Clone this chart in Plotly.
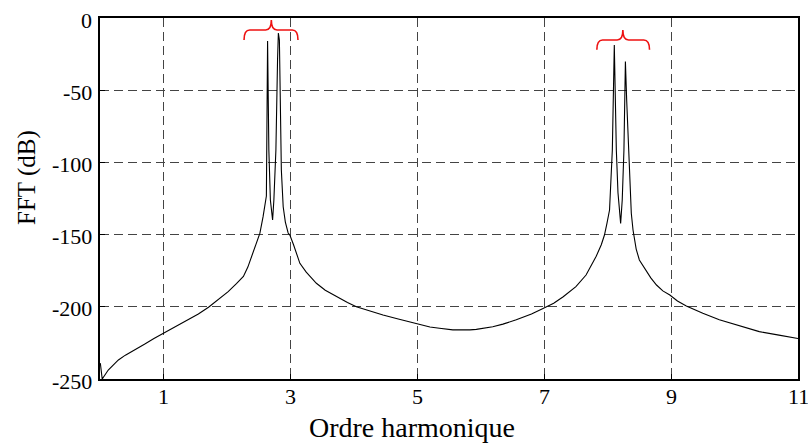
import plotly.graph_objects as go

# Spectrum samples: harmonic order vs FFT magnitude (dB)
harmonic = [
    0.005, 0.035, 0.13, 0.2, 0.29, 0.4, 0.55, 0.7, 0.85, 1.00, 1.2, 1.39, 1.55, 1.71,
    1.87, 2.02, 2.15, 2.26, 2.33, 2.39, 2.45, 2.52, 2.57,
    2.622, 2.641, 2.661, 2.685, 2.720, 2.740, 2.772, 2.798, 2.811, 2.827, 2.843,
    2.858, 2.887, 2.921, 2.965, 2.992, 3.05, 3.1, 3.15, 3.25, 3.41, 3.55, 3.73, 3.9,
    4.04, 4.25, 4.46, 4.7, 4.99, 5.2, 5.35, 5.56, 5.83, 5.93, 6.19, 6.35, 6.56, 6.8,
    6.99, 7.15, 7.30, 7.5, 7.66, 7.74, 7.82, 7.9, 7.95, 7.99, 8.03, 8.074, 8.105,
    8.137, 8.163, 8.205, 8.23, 8.257, 8.28, 8.30, 8.336, 8.373, 8.40, 8.45, 8.50,
    8.6, 8.68, 8.77, 8.87, 8.98, 9.1, 9.24, 9.5, 9.76, 10.05, 10.39, 10.7, 10.97, 11.0,
]
fft_db = [
    -239, -250, -243.8, -240.5, -236.8, -233.5, -230, -226, -222, -218.4, -213.5, -209, -205, -200.3,
    -195, -189.5, -184, -179, -172.5, -165, -158, -149, -137.6,
    -123.3, -15.9, -91.4, -126, -139.9, -126, -91.4, -29, -10.4, -15.2, -70.6,
    -105.3, -130.7, -141.3, -148.9, -150.3, -157, -163, -169.9, -176, -183.7, -188.5, -193, -197,
    -200, -203, -205.7, -208.5, -211.9, -214, -214.9, -216, -216, -215.6, -213.8, -212, -209, -205,
    -201, -197.5, -193, -186, -178, -172, -165, -157, -150.3, -142, -133, -91.4, -18.7,
    -91.4, -121, -142.2, -126, -91.4, -30.2, -56.8, -103, -135.2, -146.8, -160, -167.6,
    -175, -180, -184.9, -189, -191.8, -196, -199.4, -204.5, -209, -213, -217.2, -219.6, -221.8, -222,
]

x_ticks = [1, 3, 5, 7, 9, 11]
y_ticks = [0, -50, -100, -150, -200, -250]

# Red braces marking the two peak pairs: (left, centre, right, tip, bar, end) in data units
braces = [
    (2.27, 2.70, 3.12, -1.4, -8.3, -15.2),
    (7.83, 8.24, 8.66, -8.3, -15.2, -22.0),
]

SERIF = "Liberation Serif, DejaVu Serif"
tick_font = dict(family=SERIF, size=22, color="black")

fig = go.Figure()
fig.add_trace(go.Scatter(
    x=harmonic, y=fft_db, mode="lines",
    line=dict(color="black", width=1.1), showlegend=False,
))

for x0, xc, x1, yt, yb, ye in braces:
    d = 0.09
    path = (f"M {x0},{ye} Q {x0},{yb} {x0 + d},{yb} L {xc - d},{yb} "
            f"Q {xc},{yb} {xc},{yt} Q {xc},{yb} {xc + d},{yb} "
            f"L {x1 - d},{yb} Q {x1},{yb} {x1},{ye}")
    fig.add_shape(type="path", path=path, xref="x", yref="y",
                  line=dict(color="#ee1111", width=1.6))

axis_style = dict(
    showline=True, linecolor="black", linewidth=1.5, mirror=True,
    ticks="inside", ticklen=5, tickcolor="black",
    showgrid=True, gridcolor="#444444", griddash="9px,5px", gridwidth=1,
    zeroline=False, showticklabels=False,
)

annotations = []
# Tick labels drawn as serif text anchored to the axis values
for v in x_ticks:
    annotations.append(dict(text=str(v), xref="x", yref="paper", x=v, y=0,
                            xanchor="center", yanchor="middle", yshift=-17,
                            showarrow=False, font=tick_font))
for v in y_ticks:
    annotations.append(dict(text=str(v), xref="paper", yref="y", x=0, y=v,
                            xanchor="right", yanchor="middle", xshift=-6, yshift=-2,
                            showarrow=False, font=tick_font))

# Axis titles
annotations += [
    dict(text="Ordre harmonique", xref="paper", yref="paper",
         x=0.4463, y=-0.135, xanchor="center", yanchor="middle",
         showarrow=False, font=dict(family=SERIF, size=28, color="black")),
    dict(text="FFT (dB)", xref="paper", yref="paper",
         x=-0.1046, y=0.5596, xanchor="center", yanchor="middle",
         textangle=-90, showarrow=False,
         font=dict(family=SERIF, size=25, color="black")),
]

fig.update_layout(
    width=808, height=445,
    margin=dict(l=100, r=10, t=18, b=66),
    paper_bgcolor="white", plot_bgcolor="white",
    font=dict(family=SERIF, color="black", size=22),
    template="none",
    xaxis=dict(range=[0, 11], tickmode="array", tickvals=x_ticks, **axis_style),
    yaxis=dict(range=[-250, 0], tickmode="array", tickvals=y_ticks, **axis_style),
    annotations=annotations,
)

fig.write_html("out.html")
